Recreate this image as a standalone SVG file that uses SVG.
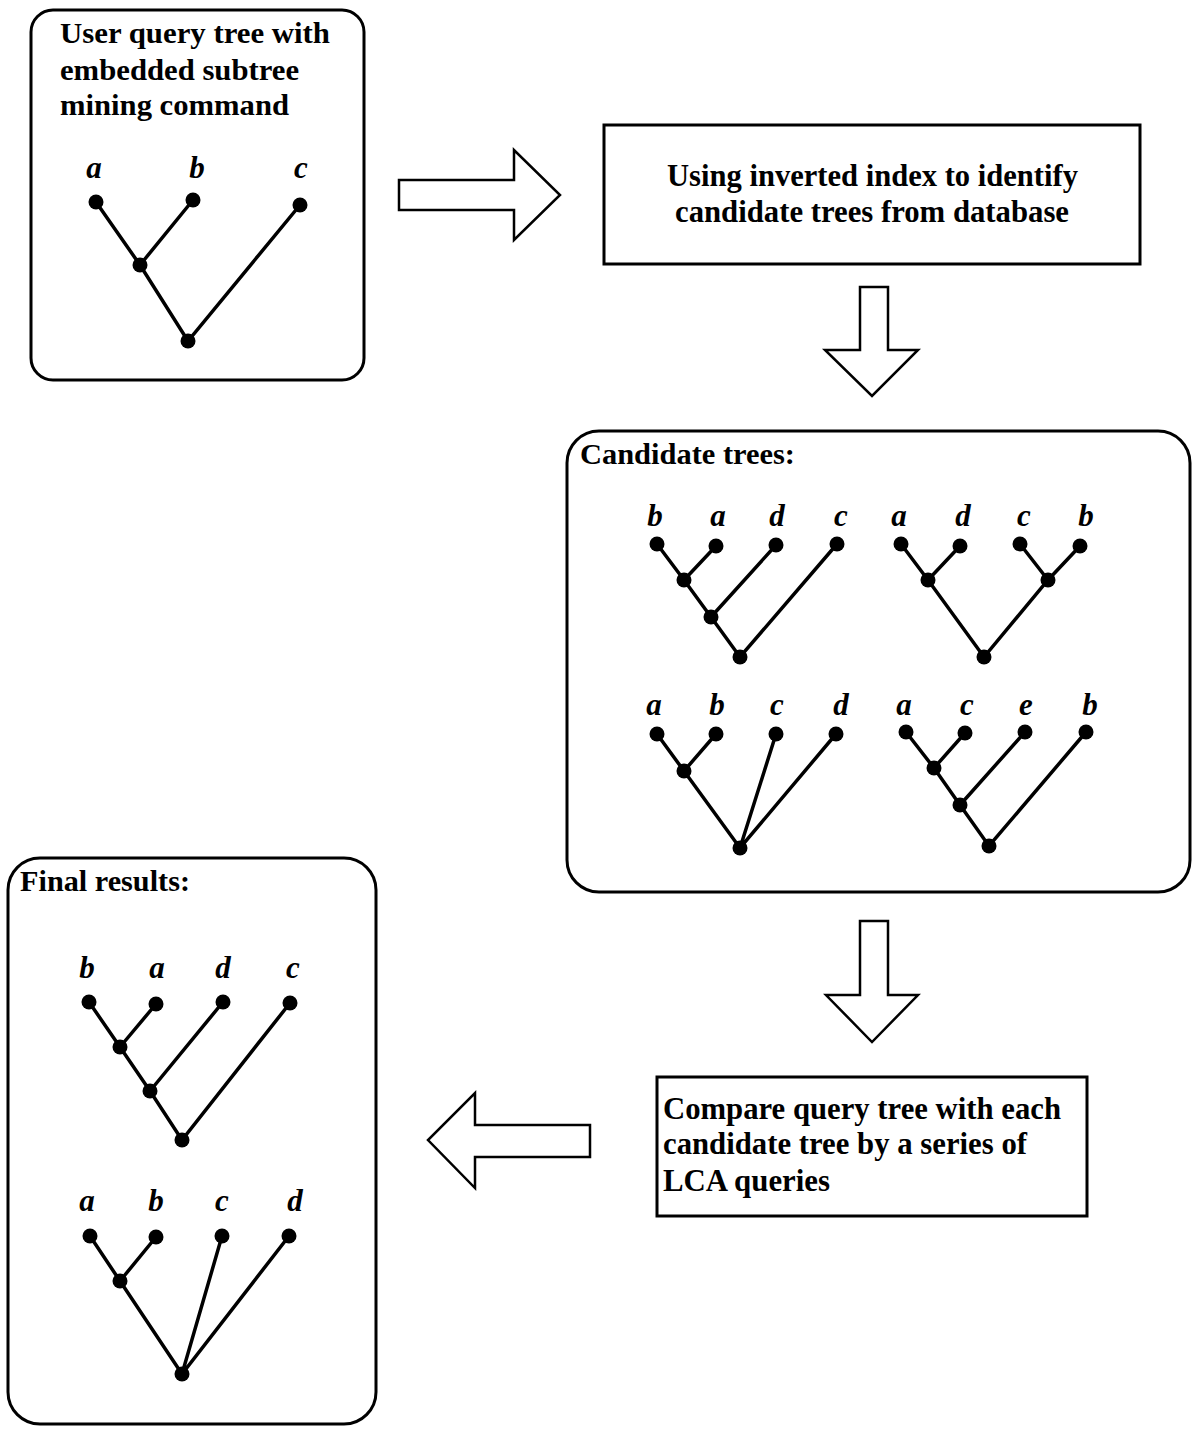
<svg xmlns="http://www.w3.org/2000/svg" width="1200" height="1446" viewBox="0 0 1200 1446">
<style>
.box{fill:#fff;stroke:#000;stroke-width:3}
.arr{fill:#fff;stroke:#000;stroke-width:2.5;stroke-linejoin:miter}
.t{font-family:"Liberation Serif","Times New Roman",serif;font-weight:bold;font-size:29px;fill:#000}
.t2{font-family:"Liberation Serif","Times New Roman",serif;font-weight:bold;font-size:31px;fill:#000}
.lbl{font-family:"Liberation Serif","Times New Roman",serif;font-weight:bold;font-style:italic;font-size:31px;fill:#000;text-anchor:middle}
.e{stroke:#000;stroke-width:3.5;fill:none}
.n{fill:#000}
</style>
<rect width="1200" height="1446" fill="#fff"/>

<g id="connectors">
<polygon class="arr" points="399,180 514,180 514,150 560,195 514,240 514,210 399,210"/>
<polygon class="arr" points="860,287 888,287 888,350 918,350 872,396 825,350 860,350"/>
<polygon class="arr" points="860,921 888,921 888,995 918,995 872,1042 826,995 860,995"/>
<polygon class="arr" points="590,1125 475,1125 475,1093 428,1140 475,1188 475,1157 590,1157"/>
</g>

<g id="query">
<rect class="box" x="31" y="10" width="333" height="370" rx="22"/>
<text class="t" x="60" y="43" textLength="270" lengthAdjust="spacingAndGlyphs">User query tree with</text>
<text class="t" x="60" y="80" textLength="239" lengthAdjust="spacingAndGlyphs">embedded subtree</text>
<text class="t" x="60" y="115" textLength="229" lengthAdjust="spacingAndGlyphs">mining command</text>
<text class="lbl" x="94" y="178">a</text><text class="lbl" x="197" y="178">b</text><text class="lbl" x="301" y="178">c</text>
<path class="e" d="M96,202 L140,265 L188,341 L300,205 M140,265 L193,200"/>
<circle class="n" cx="96" cy="202" r="7.5"/><circle class="n" cx="193" cy="200" r="7.5"/><circle class="n" cx="300" cy="205" r="7.5"/>
<circle class="n" cx="140" cy="265" r="7.5"/><circle class="n" cx="188" cy="341" r="7.5"/>
</g>

<g id="index">
<rect class="box" x="604" y="125" width="536" height="139"/>
<text class="t2" x="667" y="186" textLength="411" lengthAdjust="spacingAndGlyphs">Using inverted index to identify</text>
<text class="t2" x="675" y="222" textLength="394" lengthAdjust="spacingAndGlyphs">candidate trees from database</text>
</g>

<g id="candidates">
<rect class="box" x="567" y="431" width="623" height="461" rx="32"/>
<text class="t" x="580" y="464" textLength="215" lengthAdjust="spacingAndGlyphs">Candidate trees:</text>
<!-- tree A -->
<text class="lbl" x="655" y="526">b</text><text class="lbl" x="718" y="526">a</text><text class="lbl" x="777" y="526">d</text><text class="lbl" x="841" y="526">c</text>
<path class="e" d="M657,544 L684,580 L711,617 L740,657 L837,544 M684,580 L716,546 M711,617 L776,545"/>
<circle class="n" cx="657" cy="544" r="7.5"/><circle class="n" cx="716" cy="546" r="7.5"/><circle class="n" cx="776" cy="545" r="7.5"/><circle class="n" cx="837" cy="544" r="7.5"/>
<circle class="n" cx="684" cy="580" r="7.5"/><circle class="n" cx="711" cy="617" r="7.5"/><circle class="n" cx="740" cy="657" r="7.5"/>
<!-- tree B -->
<text class="lbl" x="899" y="526">a</text><text class="lbl" x="963" y="526">d</text><text class="lbl" x="1024" y="526">c</text><text class="lbl" x="1086" y="526">b</text>
<path class="e" d="M901,544 L928,580 L984,657 L1048,580 L1080,546 M928,580 L960,546 M1020,544 L1048,580"/>
<circle class="n" cx="901" cy="544" r="7.5"/><circle class="n" cx="960" cy="546" r="7.5"/><circle class="n" cx="1020" cy="544" r="7.5"/><circle class="n" cx="1080" cy="546" r="7.5"/>
<circle class="n" cx="928" cy="580" r="7.5"/><circle class="n" cx="1048" cy="580" r="7.5"/><circle class="n" cx="984" cy="657" r="7.5"/>
<!-- tree C -->
<text class="lbl" x="654" y="715">a</text><text class="lbl" x="717" y="715">b</text><text class="lbl" x="777" y="715">c</text><text class="lbl" x="841" y="715">d</text>
<path class="e" d="M657,734 L684,771 L740,848 L836,734 M684,771 L716,734 M740,848 L776,734"/>
<circle class="n" cx="657" cy="734" r="7.5"/><circle class="n" cx="716" cy="734" r="7.5"/><circle class="n" cx="776" cy="734" r="7.5"/><circle class="n" cx="836" cy="734" r="7.5"/>
<circle class="n" cx="684" cy="771" r="7.5"/><circle class="n" cx="740" cy="848" r="7.5"/>
<!-- tree D -->
<text class="lbl" x="904" y="715">a</text><text class="lbl" x="967" y="715">c</text><text class="lbl" x="1026" y="715">e</text><text class="lbl" x="1090" y="715">b</text>
<path class="e" d="M906,732 L934,768 L960,805 L989,846 L1086,732 M934,768 L965,733 M960,805 L1025,732"/>
<circle class="n" cx="906" cy="732" r="7.5"/><circle class="n" cx="965" cy="733" r="7.5"/><circle class="n" cx="1025" cy="732" r="7.5"/><circle class="n" cx="1086" cy="732" r="7.5"/>
<circle class="n" cx="934" cy="768" r="7.5"/><circle class="n" cx="960" cy="805" r="7.5"/><circle class="n" cx="989" cy="846" r="7.5"/>
</g>

<g id="compare">
<rect class="box" x="657" y="1077" width="430" height="139"/>
<text class="t2" x="663" y="1119" textLength="398" lengthAdjust="spacingAndGlyphs">Compare query tree with each</text>
<text class="t2" x="663" y="1154" textLength="364" lengthAdjust="spacingAndGlyphs">candidate tree by a series of</text>
<text class="t2" x="663" y="1191" textLength="167" lengthAdjust="spacingAndGlyphs">LCA queries</text>
</g>

<g id="results">
<rect class="box" x="8" y="858" width="368" height="566" rx="32"/>
<text class="t" x="20" y="891" textLength="170" lengthAdjust="spacingAndGlyphs">Final results:</text>
<!-- tree E -->
<text class="lbl" x="87" y="978">b</text><text class="lbl" x="157" y="978">a</text><text class="lbl" x="223" y="978">d</text><text class="lbl" x="293" y="978">c</text>
<path class="e" d="M89,1002 L120,1047 L150,1091 L182,1140 L290,1003 M120,1047 L156,1004 M150,1091 L223,1002"/>
<circle class="n" cx="89" cy="1002" r="7.5"/><circle class="n" cx="156" cy="1004" r="7.5"/><circle class="n" cx="223" cy="1002" r="7.5"/><circle class="n" cx="290" cy="1003" r="7.5"/>
<circle class="n" cx="120" cy="1047" r="7.5"/><circle class="n" cx="150" cy="1091" r="7.5"/><circle class="n" cx="182" cy="1140" r="7.5"/>
<!-- tree F -->
<text class="lbl" x="87" y="1211">a</text><text class="lbl" x="156" y="1211">b</text><text class="lbl" x="222" y="1211">c</text><text class="lbl" x="295" y="1211">d</text>
<path class="e" d="M90,1236 L120,1281 L182,1374 L289,1236 M120,1281 L156,1237 M182,1374 L222,1236"/>
<circle class="n" cx="90" cy="1236" r="7.5"/><circle class="n" cx="156" cy="1237" r="7.5"/><circle class="n" cx="222" cy="1236" r="7.5"/><circle class="n" cx="289" cy="1236" r="7.5"/>
<circle class="n" cx="120" cy="1281" r="7.5"/><circle class="n" cx="182" cy="1374" r="7.5"/>
</g>
</svg>
